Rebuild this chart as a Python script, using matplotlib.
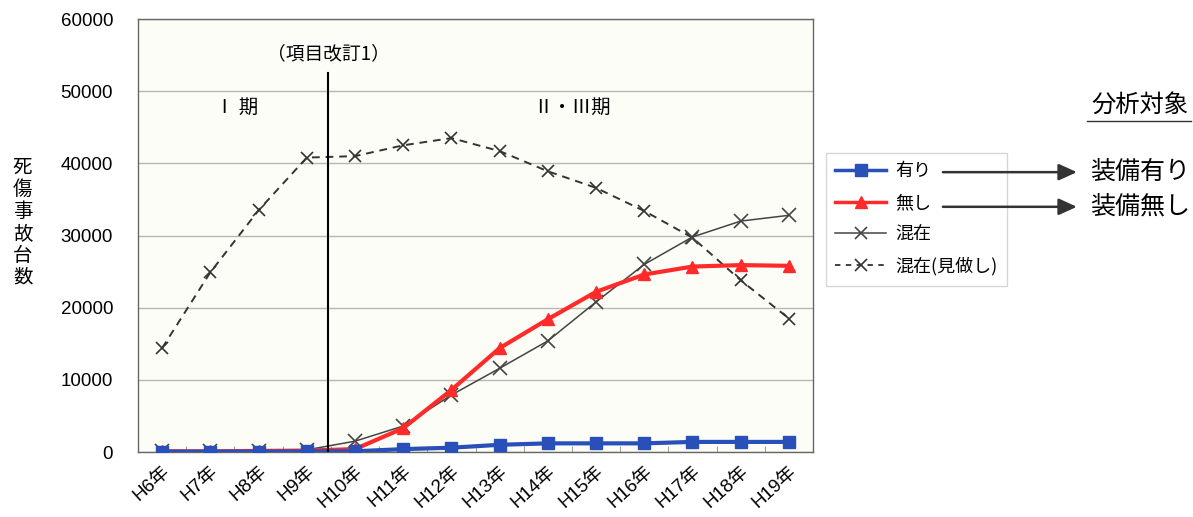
import matplotlib
matplotlib.use("Agg")
import matplotlib.pyplot as plt
from matplotlib.lines import Line2D
from matplotlib.patches import FancyArrowPatch

plt.rcParams['font.family'] = ['Liberation Sans', 'Noto Sans CJK JP', 'DejaVu Sans']
CJK = ['Noto Sans CJK JP', 'Liberation Sans', 'DejaVu Sans']

years = ["H6年", "H7年", "H8年", "H9年", "H10年", "H11年", "H12年",
         "H13年", "H14年", "H15年", "H16年", "H17年", "H18年", "H19年"]
ari = [50, 50, 50, 80, 100, 400, 600, 1000, 1200, 1200, 1200, 1400, 1400, 1400]
nashi = [100, 100, 150, 200, 400, 3300, 8600, 14400, 18400, 22200, 24600, 25700, 25900, 25800]
konzai = [100, 100, 150, 300, 1500, 3600, 7900, 11600, 15400, 20800, 26000, 29800, 32000, 32800]
konzai_minashi = [14400, 24900, 33500, 40800, 41000, 42500, 43500, 41700, 38900, 36600,
                  33400, 29700, 23800, 18500]
yticks = [0, 10000, 20000, 30000, 40000, 50000, 60000]

fig = plt.figure(figsize=(11.93, 5.17), dpi=100)
fig.patch.set_facecolor("white")
ax = fig.add_axes([0.1157, 0.1257, 0.5658, 0.8375])
ax.set_facecolor("#fdfdf8")

x = list(range(len(years)))
ax.plot(x, konzai_minashi, color="#333333", lw=1.4, ls=(0, (4, 3)),
        marker="x", ms=9, mew=1.2, zorder=3)
ax.plot(x, konzai, color="#444444", lw=1.1, marker="x", ms=10, mew=1.2, zorder=4)
ax.plot(x, nashi, color="#ff2a2a", lw=3, marker="^", ms=9, mec="#ff2a2a", zorder=5)
ax.plot(x, ari, color="#2850b8", lw=3, marker="s", ms=8.5, mec="#2850b8", zorder=6)

ax.set_xlim(-0.5, len(years) - 0.5)
ax.set_ylim(0, 60000)
ax.set_yticks(yticks)
ax.set_yticklabels([str(v) for v in yticks], fontsize=13.5)
ax.grid(axis="y", color="#b8b8b0", lw=1)
ax.set_axisbelow(True)
ax.tick_params(axis="y", length=0, pad=18)

ax.set_xticks(x)
ax.set_xticklabels(years, rotation=42, ha="right", va="top", rotation_mode="anchor",
                   fontsize=13.5)
ax.tick_params(axis="x", length=0, pad=8)
ax.set_xticks([i + 0.5 for i in range(len(years) - 1)], minor=True)
ax.tick_params(axis="x", which="minor", direction="in", length=4, color="#888888")

for s in ax.spines.values():
    s.set_color("#666666")
    s.set_linewidth(1)

# revision boundary
ax.plot([3.45, 3.45], [0, 52500], color="black", lw=1.5, zorder=7)
ax.text(3.45, 55200, "（項目改訂1）", ha="center", va="center", fontsize=13.5,
        family=CJK)
ax.text(1.55, 47700, "Ⅰ 期", ha="center", va="center", fontsize=14, family=CJK)
ax.text(8.5, 47700, "Ⅱ・Ⅲ期", ha="center", va="center", fontsize=14, family=CJK)

fig.text(0.019, 0.57, "死\n傷\n事\n故\n台\n数", ha="center", va="center",
         fontsize=14, linespacing=1.05, family=CJK)

handles = [
    Line2D([], [], color="#2850b8", lw=2.5, marker="s", ms=8, mec="#2850b8"),
    Line2D([], [], color="#ff2a2a", lw=2.5, marker="^", ms=8, mec="#ff2a2a"),
    Line2D([], [], color="#444444", lw=1.1, marker="x", ms=9, mew=1.2),
    Line2D([], [], color="#333333", lw=1.3, ls=(0, (3, 3)), marker="x", ms=9, mew=1.2),
]
labels = ["有り", "無し", "混在", "混在(見做し)"]
leg = fig.legend(handles, labels, loc="upper left", bbox_to_anchor=(0.692, 0.705),
                 fontsize=13, frameon=True, fancybox=False, edgecolor="#cccccc",
                 handlelength=2.8, handletextpad=0.5, labelspacing=0.75,
                 borderpad=0.55, borderaxespad=0, prop={'family': CJK, 'size': 13})

fig.text(0.9555, 0.797, "分析対象", ha="center", va="center", fontsize=17.5, family=CJK)
fig.add_artist(Line2D([0.911, 0.998], [0.766, 0.766], color="#333333", lw=1,
                      transform=fig.transFigure))
for yy, txt in [(0.667, "装備有り"), (0.600, "装備無し")]:
    fig.text(0.914, yy, txt, ha="left", va="center", fontsize=18, family=CJK)
    arr = FancyArrowPatch((0.788, yy), (0.905, yy), transform=fig.transFigure,
                          arrowstyle="-|>,head_length=11,head_width=5",
                          color="#333333", lw=1.8, mutation_scale=1, zorder=10)
    fig.add_artist(arr)

fig.savefig("out.png", dpi=100)
